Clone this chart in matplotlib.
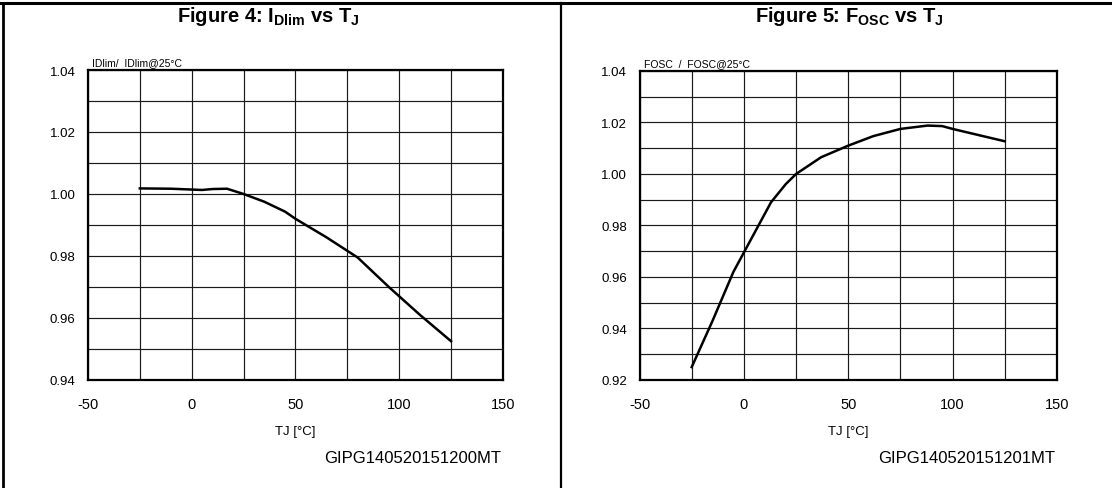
"""Datasheet-style plots: normalized ID limit and oscillator frequency vs junction temperature."""

import matplotlib

matplotlib.use("Agg")
import matplotlib.pyplot as plt
from matplotlib.lines import Line2D

# Figure 4: IDlim / IDlim@25°C vs TJ
idlim_tj = [-25, -10, 5, 10, 17, 25, 35, 45, 50, 65, 80, 95, 110, 125]
idlim_ratio = [1.0018, 1.0017, 1.0013, 1.0016, 1.0017, 1.0000, 0.9975,
               0.9943, 0.9920, 0.9860, 0.9795, 0.9700, 0.9610, 0.9525]

# Figure 5: FOSC / FOSC@25°C vs TJ
fosc_tj = [-25, -15, -5, 7, 13, 20, 25, 37, 50, 62, 75, 88, 95, 100, 125]
fosc_ratio = [0.925, 0.943, 0.962, 0.980, 0.989, 0.996, 1.000, 1.0065,
              1.011, 1.0147, 1.0175, 1.0188, 1.0186, 1.0175, 1.0127]

x_ticks = [-50, 0, 50, 100, 150]
idlim_yticks = [0.94, 0.96, 0.98, 1.00, 1.02, 1.04]
fosc_yticks = [0.92, 0.94, 0.96, 0.98, 1.00, 1.02, 1.04]

plt.rcParams.update(
    {
        "font.family": ["Liberation Sans", "DejaVu Sans"],
        "mathtext.fontset": "custom",
        "mathtext.rm": "Liberation Sans",
        "mathtext.bf": "Liberation Sans:bold",
        "axes.unicode_minus": False,
    }
)


def draw_panel(ax, x, y, yticks, ylabel, code):
    ax.set_xlim(-50, 150)
    ax.set_ylim(yticks[0], yticks[-1])
    ax.set_xticks(x_ticks)
    ax.set_xticks(range(-50, 151, 25), minor=True)
    ax.set_yticks(yticks)
    n_rows = int(round((yticks[-1] - yticks[0]) / 0.01))
    ax.set_yticks([yticks[0] + 0.01 * i for i in range(n_rows + 1)], minor=True)
    ax.set_yticklabels([f"{v:.2f}" for v in yticks])
    ax.grid(True, which="both", color="#1a1a1a", linewidth=0.85)
    ax.tick_params(which="both", length=0)
    ax.tick_params(axis="y", pad=9, labelsize=9.5)
    ax.tick_params(axis="x", pad=12, labelsize=10.5)
    for spine in ax.spines.values():
        spine.set_linewidth(1.6)
    ax.plot(x, y, color="black", linewidth=1.8, zorder=3)
    ax.set_xlabel("TJ [°C]", fontsize=9.5, labelpad=10)
    ax.text(0.01, 1.01, ylabel, transform=ax.transAxes, fontsize=7.5,
            ha="left", va="bottom")
    ax.text(0.995, -0.25, code, transform=ax.transAxes, fontsize=12,
            ha="right", va="center")


fig = plt.figure(figsize=(11.12, 4.89), dpi=100)
ax1 = fig.add_axes([0.0791, 0.2209, 0.3732, 0.6339])
ax2 = fig.add_axes([0.5751, 0.2209, 0.3754, 0.6319])

draw_panel(ax1, idlim_tj, idlim_ratio, idlim_yticks,
           "IDlim/  IDlim@25°C", "GIPG140520151200MT")
draw_panel(ax2, fosc_tj, fosc_ratio, fosc_yticks,
           "FOSC  /  FOSC@25°C", "GIPG140520151201MT")

fig.text(0.241, 0.966, r"Figure 4: I$_{\mathbf{Dlim}}$ vs T$_{\mathbf{J}}$",
         fontsize=14.5, fontweight="bold", ha="center", va="center")
fig.text(0.764, 0.966, r"Figure 5: F$_{\mathbf{OSC}}$ vs T$_{\mathbf{J}}$",
         fontsize=14.5, fontweight="bold", ha="center", va="center")

# table borders around the two figures
fig.add_artist(Line2D([0, 1], [1 - 4 / 489] * 2, color="black", linewidth=2.2))
fig.add_artist(Line2D([3 / 1112] * 2, [0, 1 - 4 / 489], color="black", linewidth=2.0))
fig.add_artist(Line2D([561 / 1112] * 2, [0, 1 - 4 / 489], color="black", linewidth=1.6))

fig.savefig("out.png", dpi=100, facecolor="white")
